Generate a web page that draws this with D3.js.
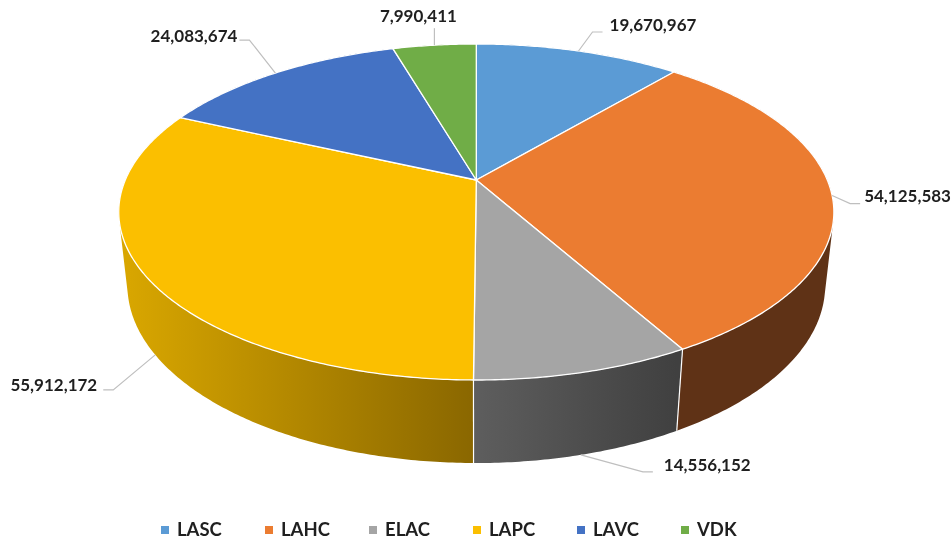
<!DOCTYPE html>
<html>
<head>
<meta charset="utf-8">
<script src="https://d3js.org/d3.v7.min.js"></script>
<style>
    html, body { margin: 0; background: #fff; }
    svg { display: block; filter: blur(0.35px); }
    text { font-family: Lato, "Open Sans", sans-serif; font-weight: 700; fill: #1f1f1f; }
</style>
</head>
<body>
<div id="chart"></div>
<script>
const categories = ['LASC', 'LAHC', 'ELAC', 'LAPC', 'LAVC', 'VDK'];
const values = [19670967, 54125583, 14556152, 55912172, 24083674, 7990411];
const topColors = ['#5B9BD5', '#EB7C31', '#A5A5A5', '#FBBF00', '#4472C4', '#70AD47'];
const wallLeft = ['#355B7D', '#5F3216', '#5E5E5E', '#D8A600', '#284376', '#42662A'];
const wallRight = ['#355B7D', '#5F3216', '#404040', '#8A6700', '#284376', '#42662A'];

// where the leader bends and where the text sits, relative to the rim point
const elbowOffset = [[14, -19], [18, 8], [62, 17], [-42, 35], [-26, -33], [0, -17]];
const elbowRun = [10, 10, 10, -10, -10, 0];
const labelAnchor = ['start', 'start', 'start', 'end', 'end', 'middle'];
const labelShift = [[7, -7], [4, -7], [11, -7], [-6, -5], [-2, -4], [-16, -12]];
const leaderOnFloor = [false, false, true, true, false, false];

const width = 952;
const height = 541;

// the pie is a tilted disc, so each rim point goes through a perspective projection
const cam = { cx: 476.3, cy: 180, a: 351, b: 161.9, k: 0.1905, drop: 74, shrink: 0.024 };

function project(angle, floor) {
    const x = Math.sin(angle);
    const y = -Math.cos(angle);
    const z = floor ? 1 : 0;
    const w = 1 - cam.k * y + cam.shrink * z;
    return [cam.cx + cam.a * x / w, cam.cy + (cam.b * y + cam.drop * z) / w];
}

function sampleAngles(start, end) {
    const steps = Math.max(2, Math.ceil((end - start) / 0.01));
    return d3.range(steps + 1).map((i) => start + (end - start) * i / steps);
}

function rimPoints(start, end) {
    return sampleAngles(start, end).map((t) => project(t, false));
}

// wall as many thin quads, all wound the same way, so the straight silhouette fills too
function wallPath(d) {
    const angles = sampleAngles(d.startAngle, d.endAngle);
    return d3.pairs(angles).map(([t0, t1]) => {
        const quad = [project(t0, false), project(t1, false), project(t1, true), project(t0, true)];
        return line(d3.polygonArea(quad) < 0 ? quad.reverse() : quad) + 'Z';
    }).join('');
}

const svg = d3.select('#chart')
    .append('svg')
    .attr('width', width)
    .attr('height', height)
    .attr('viewBox', `0 0 ${width} ${height}`);

const slices = d3.pie().sort(null)(values);
const line = d3.line();
const defs = svg.append('defs');

slices.forEach((d, i) => {
    const xs = d3.extent(sampleAngles(d.startAngle, d.endAngle), (t) => project(t, true)[0]);
    const grad = defs.append('linearGradient')
        .attr('id', `wall-${i}`)
        .attr('gradientUnits', 'userSpaceOnUse')
        .attr('x1', xs[0]).attr('x2', xs[1])
        .attr('y1', 0).attr('y2', 0);
    grad.append('stop').attr('offset', 0).attr('stop-color', wallLeft[i]);
    grad.append('stop').attr('offset', 1).attr('stop-color', wallRight[i]);
});

svg.append('g')
    .selectAll('path')
    .data(slices)
    .enter()
    .append('path')
    .attr('d', wallPath)
    .attr('fill', (d, i) => `url(#wall-${i})`);

svg.append('g')
    .selectAll('path')
    .data(slices)
    .enter()
    .append('path')
    .attr('d', (d) => line([project(d.startAngle, false), project(d.startAngle, true)]))
    .attr('stroke', '#fff')
    .attr('stroke-width', 1.2);

svg.append('g')
    .selectAll('path')
    .data(slices)
    .enter()
    .append('path')
    .attr('d', (d) => line([[cam.cx, cam.cy]].concat(rimPoints(d.startAngle, d.endAngle))) + 'Z')
    .attr('fill', (d, i) => topColors[i])
    .attr('stroke', '#fff')
    .attr('stroke-width', 1.3)
    .attr('stroke-linejoin', 'round');

const leaders = slices.map((d, i) => {
    const start = project((d.startAngle + d.endAngle) / 2, leaderOnFloor[i]);
    const elbow = [start[0] + elbowOffset[i][0], start[1] + elbowOffset[i][1]];
    const end = [elbow[0] + elbowRun[i], elbow[1]];
    return { start, elbow, end };
});

svg.append('g')
    .selectAll('path')
    .data(leaders)
    .enter()
    .append('path')
    .attr('d', (d) => line([d.start, d.elbow, d.end]))
    .attr('fill', 'none')
    .attr('stroke', '#bfbfbf')
    .attr('stroke-width', 1.2);

svg.append('g')
    .selectAll('text')
    .data(leaders)
    .enter()
    .append('text')
    .attr('x', (d, i) => d.end[0] + labelShift[i][0])
    .attr('y', (d, i) => d.end[1] + labelShift[i][1])
    .attr('dy', '0.35em')
    .attr('text-anchor', (d, i) => labelAnchor[i])
    .attr('font-size', '17px')
    .text((d, i) => d3.format(',')(values[i]));

const legendX = d3.scalePoint()
    .domain(categories)
    .range([161, 681]);

const legend = svg.append('g')
    .selectAll('g')
    .data(categories)
    .enter()
    .append('g')
    .attr('transform', (d) => `translate(${legendX(d)},530)`);

legend.append('rect')
    .attr('x', 0)
    .attr('y', -4)
    .attr('width', 8)
    .attr('height', 8)
    .attr('fill', (d, i) => topColors[i]);

legend.append('text')
    .attr('x', 16)
    .attr('dy', '0.35em')
    .attr('font-size', '18.5px')
    .text((d) => d);
</script>
</body>
</html>
